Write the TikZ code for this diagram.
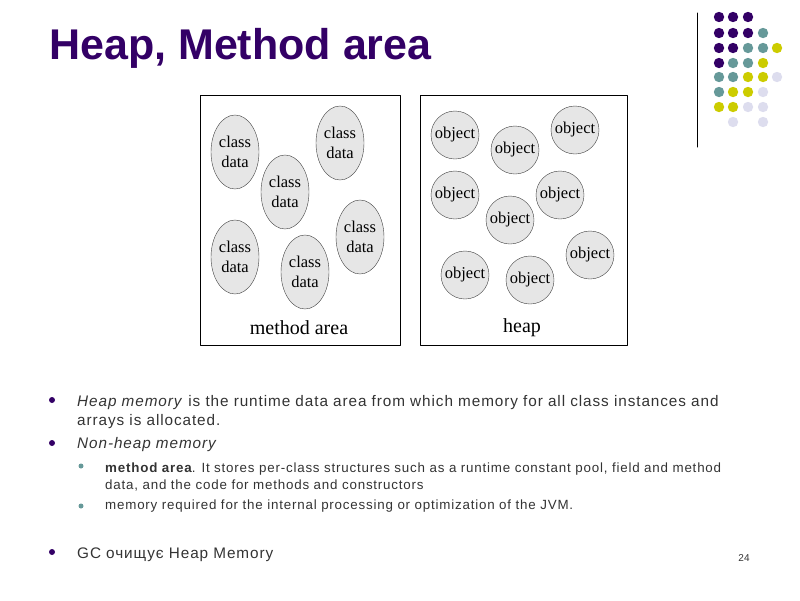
\documentclass[tikz,border=0pt]{standalone}
\usepackage{fontspec}
\setmainfont{Liberation Sans}
\newfontfamily\pictfont{Liberation Serif}
\newfontfamily\slidefont[LetterSpace=6]{Liberation Sans}
\usetikzlibrary{shapes.geometric}
\definecolor{titlepurple}{HTML}{330066}
\definecolor{dotteal}{HTML}{669999}
\definecolor{dotyellow}{HTML}{CCCC00}
\definecolor{dotlilac}{HTML}{DDDDEE}
\definecolor{bodygray}{HTML}{333333}
\definecolor{cellgray}{HTML}{E6E6E6}
\begin{document}
\begin{tikzpicture}[
  x=1pt, y=-1pt,
  line cap=round, line join=round,
  classdata/.style={ellipse, draw=black!75, fill=cellgray, minimum width=48pt,
    minimum height=74pt, inner sep=0pt, align=center,
    font=\pictfont\fontsize{16.5}{20}\selectfont},
  objcell/.style={circle, draw=black!75, fill=cellgray, minimum size=48pt,
    inner sep=0pt, font=\pictfont\fontsize{16.5}{20}\selectfont},
  arealabel/.style={font=\pictfont\fontsize{20}{22}\selectfont, inner sep=0pt},
  bodyline/.style={anchor=base west, inner sep=0pt, text=bodygray,
    font=\slidefont\fontsize{15.3}{18}\selectfont},
  subline/.style={anchor=base west, inner sep=0pt, text=bodygray,
    font=\slidefont\fontsize{13.35}{16}\selectfont}
]
\useasboundingbox (0,0) rectangle (800,600);

% title
\node[anchor=base west, inner sep=0pt, text=titlepurple,
  font=\fontsize{43}{45}\bfseries] (title) at (49,59) {Heap, Method area};

% corner dots
\draw[line width=1pt] (697,13) -- (697,147);
\foreach \dx/\dy/\dc in {
  719/17/titlepurple, 733/17/titlepurple, 748/17/titlepurple,
  719/33/titlepurple, 733/33/titlepurple, 748/33/titlepurple, 763/33/dotteal,
  719/48/titlepurple, 733/48/titlepurple, 748/48/dotteal, 763/48/dotteal, 777/48/dotyellow,
  719/63/titlepurple, 733/63/dotteal, 748/63/dotteal, 763/63/dotyellow,
  719/77/dotteal, 733/77/dotteal, 748/77/dotyellow, 763/77/dotyellow, 777/77/dotlilac,
  719/92/dotteal, 733/92/dotyellow, 748/92/dotyellow, 763/92/dotlilac,
  719/107/dotyellow, 733/107/dotyellow, 748/107/dotlilac, 763/107/dotlilac,
  733/122/dotlilac, 763/122/dotlilac} {
  \fill[\dc] (\dx,\dy) circle (5.2);
}

% method area
\draw[line width=1pt] (200,95) rectangle (400,345);
\node[classdata] (cd1) at (235,152) {class\\data};
\node[classdata] (cd2) at (340,143) {class\\data};
\node[classdata] (cd3) at (285,192) {class\\data};
\node[classdata] (cd4) at (235,257) {class\\data};
\node[classdata] (cd5) at (305,272) {class\\data};
\node[classdata] (cd6) at (360,237) {class\\data};
\node[arealabel] (methodlbl) at (299,328) {method area};

% heap
\draw[line width=1pt] (420,95) rectangle (627,345);
\node[objcell] (ob1) at (455,135) {object};
\node[objcell] (ob2) at (515,150) {object};
\node[objcell] (ob3) at (575,130) {object};
\node[objcell] (ob4) at (455,195) {object};
\node[objcell] (ob5) at (560,195) {object};
\node[objcell] (ob6) at (510,220) {object};
\node[objcell] (ob7) at (590,255) {object};
\node[objcell] (ob8) at (465,275) {object};
\node[objcell] (ob9) at (530,280) {object};
\node[arealabel] (heaplbl) at (522,328) {heap};

% bullets
\foreach \by in {400,443,552} {
  \fill[titlepurple] (52,\by) circle (3);
}
\foreach \by in {466,506} {
  \fill[dotteal] (81,\by) circle (2.5);
}
\node[bodyline] (heapa) at (77,406)
  {\textit{Heap memory} is the runtime data area from which memory for all class instances and};
\node[bodyline] (heapb) at (77,425) {arrays is allocated.};
\node[bodyline] (nonheap) at (77,448) {\textit{Non-heap memory}};
\node[subline] (mareaa) at (105,472)
  {\textbf{method area}. It stores per-class structures such as a runtime constant pool, field and method};
\node[subline] (mareab) at (105,489) {data, and the code for methods and constructors};
\node[subline] (jvmmem) at (105,509) {memory required for the internal processing or optimization of the JVM.};
\node[bodyline] (gcline) at (77,558) {GC очищує Heap Memory};
\node[anchor=base, inner sep=0pt, text=bodygray, font=\fontsize{10}{12}\selectfont]
  (pagenum) at (744,561) {24};
\end{tikzpicture}
\end{document}
